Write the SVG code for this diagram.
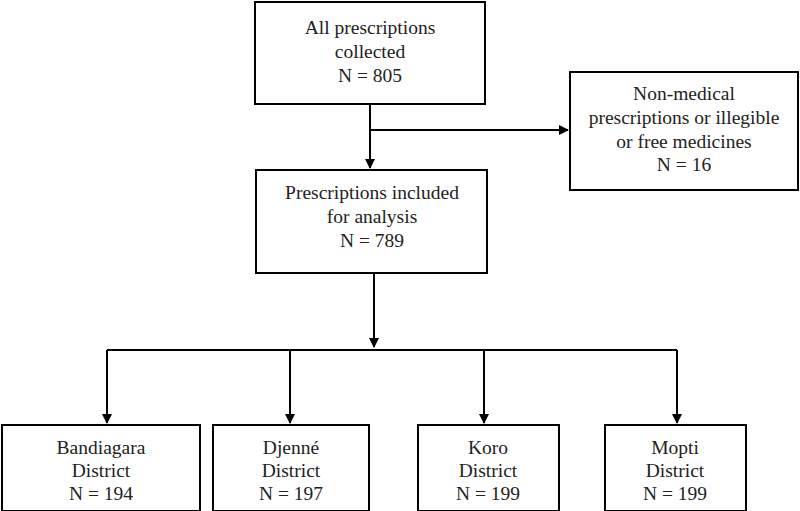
<svg xmlns="http://www.w3.org/2000/svg" width="800" height="511" viewBox="0 0 800 511">
<defs>
<style>
.b{fill:#fff;stroke:#000;stroke-width:2}
.t{font-family:"Liberation Serif",serif;font-size:19.5px;text-anchor:middle;fill:#222}
.c{stroke:#000;stroke-width:2;fill:none}
</style>
<marker id="a" markerWidth="10" markerHeight="10" refX="9" refY="5" orient="auto" markerUnits="userSpaceOnUse"><path d="M0,0 L10,5 L0,10 z" fill="#000"/></marker>
</defs>
<rect width="800" height="511" fill="#fff"/>
<g id="n1"><rect class="b" x="255" y="2" width="230" height="102"/><text class="t" x="370" y="34">All prescriptions</text><text class="t" x="370" y="58">collected</text><text class="t" x="370" y="82">N = 805</text></g>
<g id="n2"><rect class="b" x="570" y="72" width="228" height="118"/><text class="t" x="684" y="100">Non-medical</text><text class="t" x="684" y="124">prescriptions or illegible</text><text class="t" x="684" y="148">or free medicines</text><text class="t" x="684" y="171">N = 16</text></g>
<g id="n3"><rect class="b" x="256" y="170" width="231" height="103"/><text class="t" x="372" y="199">Prescriptions included</text><text class="t" x="372" y="223">for analysis</text><text class="t" x="372" y="247">N = 789</text></g>
<g id="n4"><rect class="b" x="2" y="425" width="198" height="86"/><text class="t" x="101" y="454">Bandiagara</text><text class="t" x="101" y="477">District</text><text class="t" x="101" y="500">N = 194</text></g>
<g id="n5"><rect class="b" x="213" y="425" width="156" height="86"/><text class="t" x="291" y="454">Djenné</text><text class="t" x="291" y="477">District</text><text class="t" x="291" y="500">N = 197</text></g>
<g id="n6"><rect class="b" x="418" y="425" width="141" height="86"/><text class="t" x="488" y="454">Koro</text><text class="t" x="488" y="477">District</text><text class="t" x="488" y="500">N = 199</text></g>
<g id="n7"><rect class="b" x="605" y="425" width="141" height="86"/><text class="t" x="675" y="454">Mopti</text><text class="t" x="675" y="477">District</text><text class="t" x="675" y="500">N = 199</text></g>
<g id="connectors">
<path class="c" d="M370,104 V168" marker-end="url(#a)"/>
<path class="c" d="M370,130 H568" marker-end="url(#a)"/>
<path class="c" d="M374,273 V347" marker-end="url(#a)"/>
<path class="c" d="M107,350 H677"/>
<path class="c" d="M107,350 V423" marker-end="url(#a)"/>
<path class="c" d="M290,350 V423" marker-end="url(#a)"/>
<path class="c" d="M484,350 V423" marker-end="url(#a)"/>
<path class="c" d="M677,350 V423" marker-end="url(#a)"/>
</g>
</svg>
